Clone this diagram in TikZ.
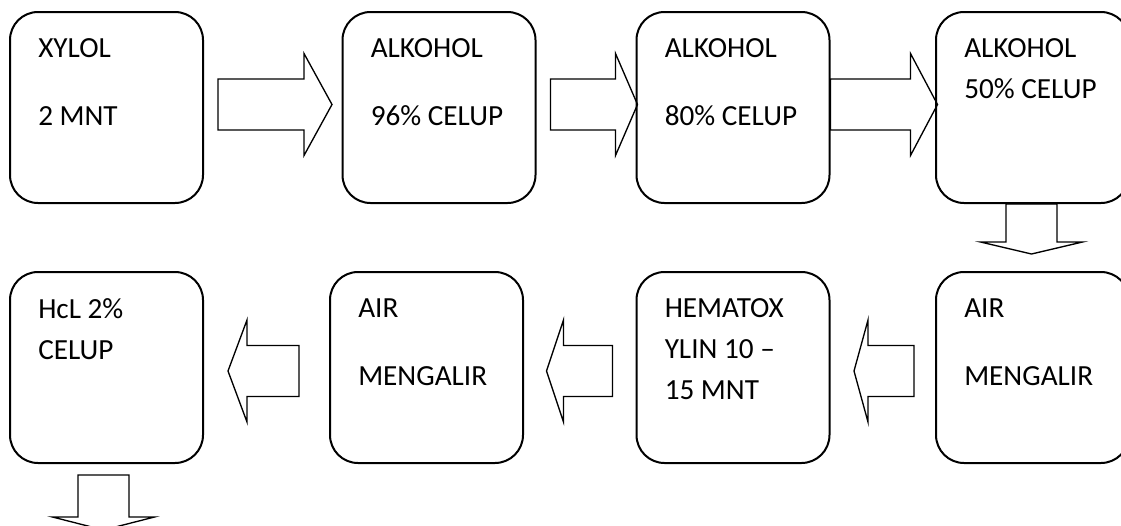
\documentclass[tikz,border=0pt]{standalone}
\usepackage{fontspec}
\setmainfont{Carlito}
\usetikzlibrary{calc}
\tikzset{
  kotak/.style = {draw = black, line width = 1.5pt, rounded corners = 21pt, minimum width = 144.75pt, minimum height = 143.25pt, inner sep = 0pt},
  tulisan/.style = {anchor = north west, align = left, inner sep = 0pt, font = \fontsize{21.9pt}{30.75pt}\selectfont},
  garispanah/.style = {draw = black, line width = 1pt, line join = miter},
  pics/panah/.style args = {#1/#2}{code = {
    \draw[garispanah] (0,-25.5) -- (#1,-25.5) -- (#1,-51) -- (#1+#2,0) -- (#1,51) -- (#1,25.5) -- (0,25.5) -- cycle;
  }}
}
\begin{document}
\begin{tikzpicture}[x = 0.75pt, y = -0.75pt]
\useasboundingbox (0,0) rectangle (1121,525);
\pgfmathsetmacro\jarak{20.25};
\foreach \nama/\x/\y in {xylol/106.5/107.5, alkA/439/107.5, alkB/733/107.5, alkC/1032.5/107.5, hcl/106.5/367.5, airB/426.5/367.5, hema/733/367.5, airA/1032.5/367.5}
  \node[kotak] (\nama) at (\x,\y) {};
\foreach \nama/\isi in {xylol/{XYLOL\\[\jarak pt]2 MNT}, alkA/{ALKOHOL\\[\jarak pt]96\% CELUP}, alkB/{ALKOHOL\\[\jarak pt]80\% CELUP}, alkC/{ALKOHOL\\50\% CELUP}, hcl/{HcL 2\%\\CELUP}, airB/{AIR\\[\jarak pt]MENGALIR}, hema/{HEMATOX\\YLIN 10 –\\15 MNT}, airA/{AIR\\[\jarak pt]MENGALIR}}
  \node[tulisan] (t\nama) at ($(\nama.north west)+(29,27.5)$) {\isi};
\pic at ($(xylol.east)+(14,-3)$) {panah = 86/28};
\pic at ($(alkA.east)+(14,-3)$) {panah = 65/22};
\pic at ($(alkB.east)+(0,-3)$) {panah = 80/27};
\pic[rotate = -90] at ($(alkC.south)+(-1,0)$) {panah = 38/12};
\pic[rotate = 180] at ($(airA.west)+(-21,3.5)$) {panah = 46/14};
\pic[rotate = 180] at ($(hema.west)+(-23,3.5)$) {panah = 49/17};
\pic[rotate = 180] at ($(airB.west)+(-30,3.5)$) {panah = 52/19};
\pic[rotate = -90] at ($(hcl.south)+(-3,11)$) {panah = 42/13};
\end{tikzpicture}
\end{document}
